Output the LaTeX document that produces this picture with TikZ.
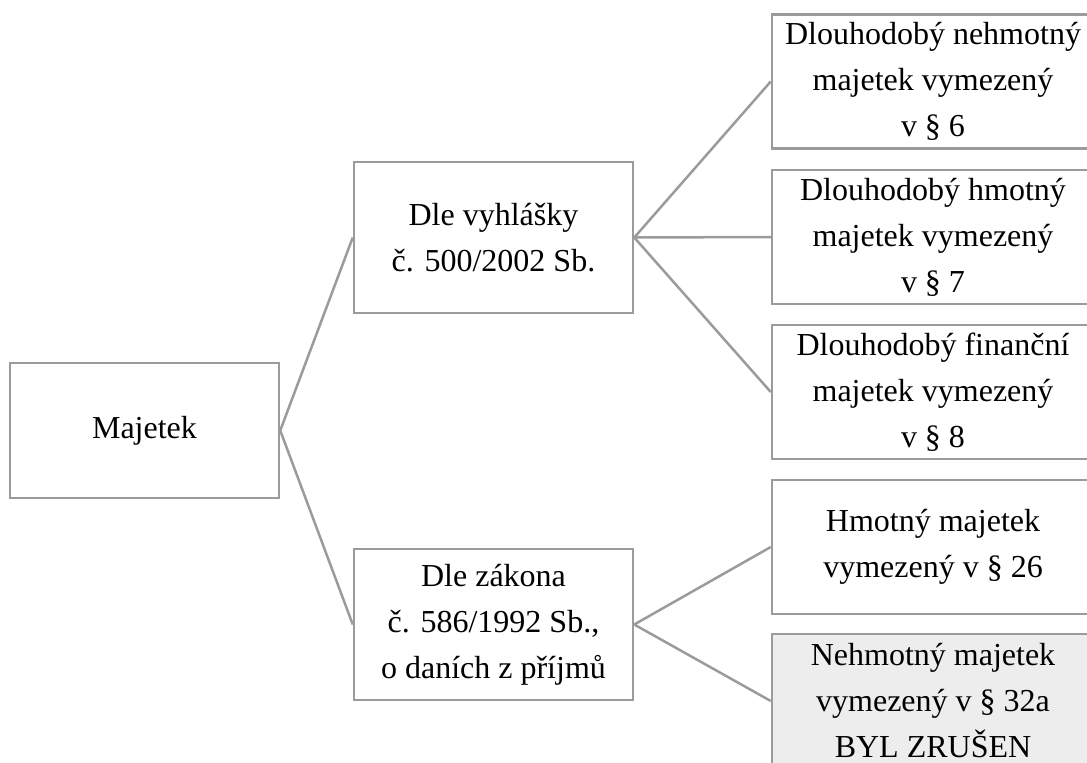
\documentclass[tikz,border=0pt]{standalone}
\usepackage{fontspec}
\setmainfont{Liberation Serif}
\usepackage{tikz}
\usetikzlibrary{positioning}

\definecolor{linegray}{RGB}{155,155,155}
\definecolor{shadegray}{RGB}{237,237,237}

\begin{document}
\begin{tikzpicture}[
  x=1pt, y=-1pt,
  box/.style={draw=linegray, line width=2.5pt, fill=white, inner sep=0pt, align=center,
    font=\fontsize{32}{46}\selectfont},
  root/.style={box, minimum width=269pt, minimum height=135pt},
  law/.style={box, minimum width=279pt, minimum height=151pt},
  leaf/.style={box, minimum width=322pt, minimum height=134pt},
  link/.style={draw=linegray, line width=2.5pt}]
  \useasboundingbox (0,0) rectangle (1087,763);
  \node[root] (maj) at (144.5,430.5) {Majetek};
  \node[law] (vyhl) at (493.5,237.5) {Dle vyhlášky\\ č. 500/2002 Sb.};
  \node[law] (zak) at (493.5,624.5) {Dle zákona\\ č. 586/1992 Sb.,\\ o daních z příjmů};
  \node[leaf] (nehm) at (933,81.5) {Dlouhodobý nehmotný\\ majetek vymezený\\ v § 6};
  \node[leaf] (hmot) at (933,237) {Dlouhodobý hmotný\\ majetek vymezený\\ v § 7};
  \node[leaf] (fin) at (933,392) {Dlouhodobý finanční\\ majetek vymezený\\ v § 8};
  \node[leaf] (hm26) at (933,547) {Hmotný majetek\\ vymezený v § 26};
  \node[leaf, fill=shadegray] (nh32) at (933,701) {Nehmotný majetek\\ vymezený v § 32a\\ BYL ZRUŠEN};
  \draw[link] (maj.east) -- (vyhl.west);
  \draw[link] (maj.east) -- (zak.west);
  \draw[link] (vyhl.east) -- (nehm.west);
  \draw[link] (vyhl.east) -- (hmot.west);
  \draw[link] (vyhl.east) -- (fin.west);
  \draw[link] (zak.east) -- (hm26.west);
  \draw[link] (zak.east) -- (nh32.west);
\end{tikzpicture}
\end{document}
